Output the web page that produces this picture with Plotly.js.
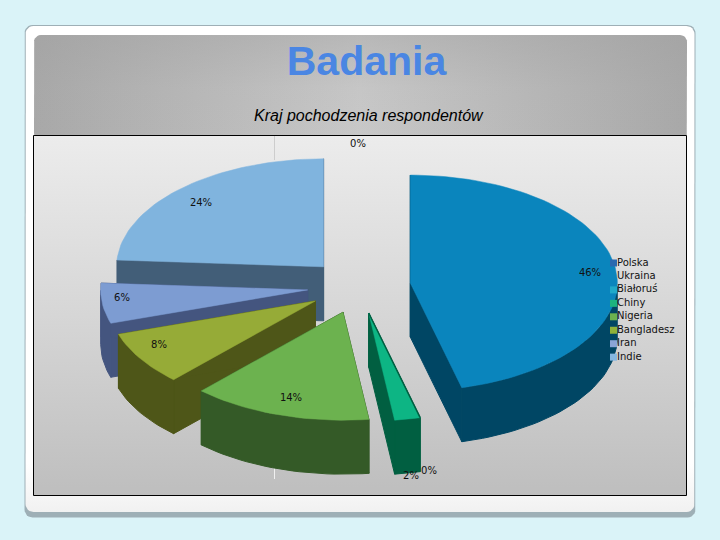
<!DOCTYPE html>
<html><head><meta charset="utf-8">
<script src="https://cdn.plot.ly/plotly-3.0.1.min.js"></script>
<style>html,body{margin:0;padding:0;background:#daf3f8}#c{width:720px;height:540px}</style>
</head><body><div id="c"></div>
<script>
var categories = ['Polska','Ukraina','Białoruś','Chiny','Nigeria','Bangladesz','Iran','Indie'];
var shares = [46,0,0,2,14,8,6,24];
var shareLabels = ['46%','0%','0%','2%','14%','8%','6%','24%'];
var topColors = ['#0a85bd','#d5d5d5','#1fa9c9','#0db584','#6cb24f','#96ab37','#7d9cd2','#80b4de'];
var wallColors = ['#004664','#888888','#0a5a70','#015f41','#345a27','#4e5618','#44557f','#425e78'];
var swatchColors = ['#2a69b0','rgba(0,0,0,0)','#1fa9c9','#1db37f','#6cb24f','#8fb23a','#8aa5d6','#85b7e0'];
var labelSpots = [[590,273],[358,144],[429,471],[411,476],[291,398],[159,345],[122,298],[201,203]];

var CX=359, CY=286.5, RX=207, RY=108, DEPTH=54, PULL=0.25;

var traces=[];
function fillTrace(pts,fill,extra){
  var t={type:'scatter',mode:'lines',x:pts.map(function(p){return p[0];}),y:pts.map(function(p){return p[1];}),
    fill:'toself',line:{width:0},hoverinfo:'skip',showlegend:false};
  if(fill) t.fillcolor=fill;
  for(var k in extra) t[k]=extra[k];
  return t;
}
function roundedBox(x0,y0,x1,y1,r){
  var pts=[],corners=[[x1-r,y0+r,-90],[x1-r,y1-r,0],[x0+r,y1-r,90],[x0+r,y0+r,180]];
  corners.forEach(function(c){
    for(var d=0;d<=90;d+=15){var a=(c[2]+d)*Math.PI/180;pts.push([c[0]+r*Math.cos(a),c[1]+r*Math.sin(a)]);}
  });
  pts.push(pts[0]);
  return pts;
}
// slide furniture (vertical fill gradients run bottom to top on this reversed axis)
traces.push(fillTrace(roundedBox(24.5,25,695.5,517.5,8),'#9eafb6'));
traces.push(fillTrace(roundedBox(25.5,26,694.5,512,8),null,{fillgradient:{type:'vertical',
  colorscale:[[0,'#f1f1f1'],[0.1,'#ffffff'],[1,'#ffffff']]}}));
var headerBox=roundedBox(34,35,687,140,7);
traces.push(fillTrace(headerBox,null,{fillgradient:{type:'horizontal',
  colorscale:[[0,'#a8a8a8'],[0.12,'#b0b0b0'],[0.5,'#c8c8c8'],[0.88,'#b0b0b0'],[1,'#a8a8a8']]}}));
traces.push(fillTrace(headerBox,null,{fillgradient:{type:'vertical',
  colorscale:[[0,'rgba(160,160,160,0)'],[0.5,'rgba(160,160,160,0.05)'],[1,'rgba(160,160,160,0.4)']]}}));
var PX0=33.5,PX1=686.5,PY0=135.5,PY1=495.5;
traces.push(fillTrace([[PX0,PY0],[PX1,PY0],[PX1,PY1],[PX0,PY1],[PX0,PY0]],null,{fillgradient:{type:'vertical',
  colorscale:[[0,'#bebebe'],[0.5,'#d6d6d6'],[1,'#ececec']]}}));
traces.push({type:'scatter',mode:'lines',x:[274.5,274.5],y:[136,160],line:{color:'#cdcdcd',width:1},hoverinfo:'skip',showlegend:false});
traces.push({type:'scatter',mode:'lines',x:[274.5,274.5],y:[465,479],line:{color:'#f0f0f0',width:1},hoverinfo:'skip',showlegend:false});

function rimPoint(c,deg){var a=deg*Math.PI/180;return [c[0]+RX*Math.sin(a),c[1]-RY*Math.cos(a)];}
var cum=0, arcs=[];
var total=shares.reduce(function(a,b){return a+b;},0);
shares.forEach(function(v,i){
  var s=cum/total*360, e=(cum+v)/total*360; cum+=v;
  arcs.push({s:s,e:e});
});
function addWall(path,color){
  var pts=path.slice();
  path.slice().reverse().forEach(function(p){pts.push([p[0],p[1]+DEPTH]);});
  pts.push(path[0]);
  traces.push({type:'scatter',mode:'lines',x:pts.map(function(p){return p[0];}),y:pts.map(function(p){return p[1];}),
    fill:'toself',fillcolor:color,line:{color:color,width:1},hoverinfo:'skip',showlegend:false});
}
// back to front: Indie, Iran, Bangladesz, Nigeria, Chiny, Polska
[7,6,5,4,3,0].forEach(function(i){
  var a=arcs[i], mid=(a.s+a.e)/2*Math.PI/180;
  var apex=[CX+PULL*RX*Math.sin(mid),CY-PULL*RY*Math.cos(mid)];
  var rim=[],front=[],n=Math.max(4,Math.ceil((a.e-a.s)/2));
  for(var k=0;k<=n;k++){
    var d=a.s+(a.e-a.s)*k/n, p=rimPoint(apex,d);
    rim.push(p);
    if(d>=90&&d<=270) front.push(p);
  }
  // walls that can show: both straight edges, then the front-facing part of the rim
  addWall([apex,rim[0]],wallColors[i]);
  addWall([apex,rim[rim.length-1]],wallColors[i]);
  if(front.length>1) addWall(front,wallColors[i]);
  var outline=[apex].concat(rim,[apex]);
  traces.push({type:'scatter',mode:'lines',x:outline.map(function(p){return p[0];}),y:outline.map(function(p){return p[1];}),
    fill:'toself',fillcolor:topColors[i],line:{color:topColors[i],width:0.5},name:categories[i],showlegend:false,
    hovertext:categories[i]+': '+shareLabels[i],hoverinfo:'text'});
  if(i===3){
    traces.push({type:'scatter',mode:'lines',x:[apex[0],rim[0][0]],y:[apex[1],rim[0][1]],
      line:{color:wallColors[i],width:1.5},hoverinfo:'skip',showlegend:false});
  }
});
// percentage labels
traces.push({type:'scatter',mode:'text',x:labelSpots.map(function(p){return p[0];}),
  y:labelSpots.map(function(p){return p[1];}),text:shareLabels,textposition:'middle center',
  textfont:{family:'DejaVu Sans',size:10,color:'#111'},hoverinfo:'skip',showlegend:false});
// legend
var LEG_X=613.5, LEG_Y=263, LEG_STEP=13.45;
traces.push({type:'scatter',mode:'markers',x:categories.map(function(){return LEG_X;}),
  y:categories.map(function(c,i){return LEG_Y+i*LEG_STEP;}),
  marker:{symbol:'square',size:7,color:swatchColors},hoverinfo:'skip',showlegend:false});
traces.push({type:'scatter',mode:'text',x:categories.map(function(){return LEG_X+3.5;}),
  y:categories.map(function(c,i){return LEG_Y+i*LEG_STEP;}),text:categories,textposition:'middle right',
  textfont:{family:'DejaVu Sans',size:10,color:'#111'},hoverinfo:'skip',showlegend:false});

var layout={width:720,height:540,margin:{l:0,r:0,t:0,b:0},paper_bgcolor:'#daf3f8',plot_bgcolor:'rgba(0,0,0,0)',
  showlegend:false,
  shapes:[{type:'rect',layer:'above',x0:PX0,x1:PX1,y0:PY0,y1:PY1,xref:'x',yref:'y',line:{color:'#000',width:1},fillcolor:'rgba(0,0,0,0)'}],
  title:{text:'Badania',x:366.5/720,xanchor:'center',y:1-61/540,yanchor:'middle',font:{family:'Liberation Sans',size:41,color:'#4a86e3',weight:'bold'}},
  xaxis:{range:[0,720],visible:false,fixedrange:true},
  yaxis:{range:[540,0],visible:false,fixedrange:true},
  annotations:[{text:'Kraj pochodzenia respondentów',xref:'x',yref:'y',x:369,y:115,showarrow:false,
    font:{family:'Liberation Sans',size:16,color:'#000',style:'italic'}}]};
Plotly.newPlot('c',traces,layout,{displayModeBar:false,staticPlot:true});
</script></body></html>
